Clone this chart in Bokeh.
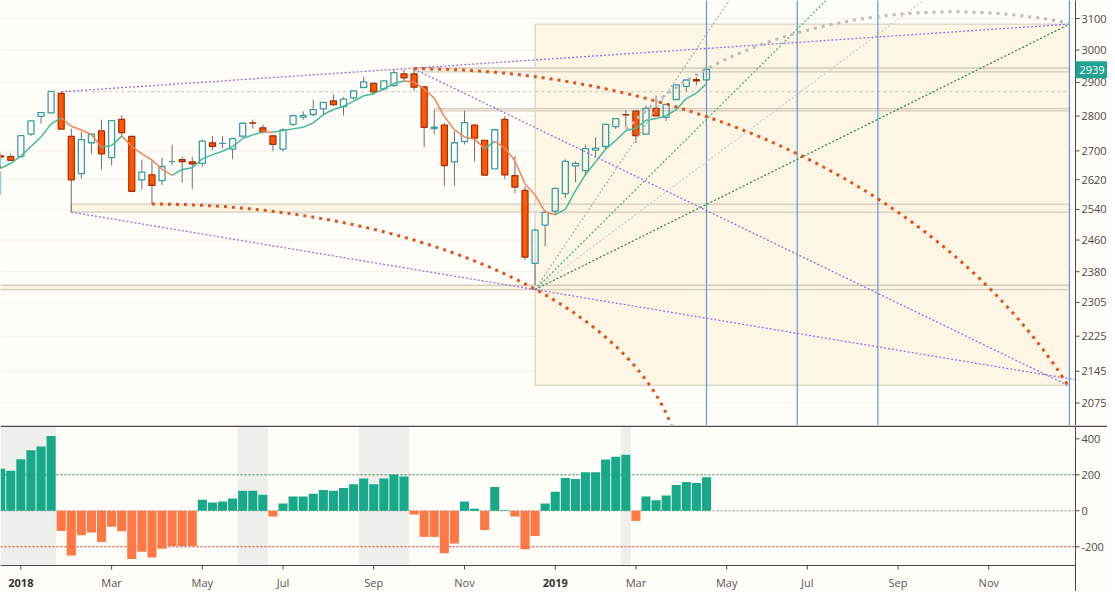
import numpy as np
from bokeh.plotting import figure
from bokeh.layouts import column
from bokeh.models import Range1d
from bokeh.core.properties import value
from bokeh.embed import file_html
from bokeh.resources import INLINE

# ---------------- data (weekly bars, week 0 = first week of 2018) ----------------
weeks = list(range(-6, 69))
opens = [2579.5, 2602.7, 2657.2, 2652.2, 2685.9, 2684.2,
         2683.7, 2747.7, 2799.0, 2809.2, 2867.2, 2741.1, 2636.8, 2723.0, 2757.4, 2681.1,
         2790.2, 2741.4, 2619.4, 2633.5, 2617.2, 2670.1, 2675.4, 2669.4, 2665.1, 2722.7,
         2721.0, 2705.1, 2741.7, 2780.2, 2765.8, 2742.9, 2705.0, 2775.6, 2796.9, 2804.6,
         2821.2, 2844.7, 2827.9, 2853.9, 2884.7, 2897.0, 2880.7, 2890.7, 2926.3, 2926.3,
         2886.4, 2763.8, 2773.9, 2669.3, 2726.4, 2773.9, 2730.1, 2650.0, 2790.5, 2630.9,
         2590.8, 2400.6, 2498.8, 2535.6, 2582.1, 2657.9, 2644.9, 2702.1, 2712.4, 2769.3,
         2804.4, 2814.4, 2747.6, 2822.6, 2796.0, 2848.6, 2888.3, 2908.4, 2908.0]
highs = [2604.2, 2657.7, 2665.2, 2679.6, 2695.0, 2692.1,
         2743.5, 2787.9, 2810.3, 2872.9, 2870.6, 2763.4, 2754.4, 2747.8, 2789.2, 2786.6,
         2801.9, 2741.4, 2674.8, 2672.1, 2680.3, 2717.5, 2683.6, 2682.9, 2732.9, 2742.1,
         2742.2, 2736.9, 2779.9, 2789.8, 2775.0, 2746.1, 2764.4, 2804.5, 2814.2, 2848.0,
         2841.4, 2863.4, 2855.6, 2876.2, 2916.5, 2900.2, 2906.3, 2940.9, 2939.1, 2939.9,
         2888.8, 2816.9, 2779.7, 2756.6, 2815.2, 2776.0, 2731.3, 2760.9, 2800.2, 2685.4,
         2601.1, 2488.8, 2538.1, 2597.8, 2675.5, 2670.7, 2718.1, 2739.0, 2775.7, 2794.2,
         2816.9, 2816.9, 2830.7, 2860.3, 2836.0, 2893.4, 2910.5, 2916.1, 2940.3]
lows = [2575.3, 2600.7, 2624.8, 2647.6, 2676.1, 2673.6,
        2682.4, 2742.4, 2778.4, 2808.1, 2760.0, 2532.7, 2622.5, 2692.0, 2647.5, 2659.3,
        2741.4, 2585.9, 2593.1, 2553.8, 2605.5, 2660.0, 2612.2, 2594.6, 2655.2, 2701.9,
        2707.4, 2676.8, 2737.8, 2763.9, 2749.2, 2698.7, 2699.0, 2770.6, 2789.2, 2799.2,
        2802.5, 2829.9, 2802.5, 2848.0, 2884.7, 2864.1, 2873.5, 2886.5, 2903.3, 2874.3,
        2710.5, 2746.6, 2603.5, 2603.5, 2717.9, 2670.8, 2631.1, 2650.0, 2621.5, 2583.2,
        2408.6, 2346.6, 2444.0, 2524.6, 2570.4, 2612.9, 2631.1, 2681.8, 2703.6, 2762.2,
        2767.7, 2722.3, 2746.0, 2800.7, 2785.0, 2848.6, 2873.3, 2891.9, 2898.2]
closes = [2602.4, 2642.2, 2651.5, 2675.8, 2683.3, 2673.6,
          2743.2, 2786.2, 2810.3, 2872.9, 2762.1, 2619.6, 2732.2, 2747.3, 2691.3, 2786.6,
          2752.0, 2588.3, 2640.9, 2604.5, 2656.3, 2670.1, 2669.9, 2663.4, 2727.7, 2713.0,
          2721.3, 2734.6, 2779.0, 2779.4, 2754.9, 2718.4, 2759.8, 2801.3, 2801.8, 2818.8,
          2840.4, 2833.3, 2850.1, 2874.7, 2901.5, 2871.7, 2905.0, 2929.7, 2914.0, 2885.6,
          2767.1, 2767.8, 2658.7, 2723.1, 2781.0, 2736.3, 2632.6, 2760.2, 2633.1, 2600.0,
          2416.6, 2485.7, 2531.9, 2596.3, 2670.7, 2664.8, 2706.5, 2707.9, 2775.6, 2792.7,
          2803.7, 2743.1, 2822.5, 2800.7, 2834.4, 2892.7, 2907.4, 2905.0, 2939.9]
last_price = 2939

hist_weeks = list(range(-2, 69))
hist_vals = [234, 223, 287, 336, 357, 416, -112, -248, -136, -120, -173, -88, -114,
             -268, -227, -259, -211, -196, -196, -196, 62, 46, 52, 68, 111, 111, 89,
             -32, 41, 79, 79, 95, 116, 111, 127, 148, 180, 148, 180, 202, 191, -21,
             -145, -145, -236, -182, 52, 12, -107, 132, 3, -32, -214, -140, 41, 106,
             182, 177, 214, 214, 285, 301, 312, -56, 79, 58, 85, 144, 160, 155, 187]
shade_weeks = [-2, -1, 0, 1, 2, 3, 22, 23, 24, 34, 35, 36, 37, 38, 60]

price_ticks = [2075, 2145, 2225, 2305, 2380, 2460, 2540, 2620, 2700, 2800, 2900, 3000, 3100]
osc_ticks = [400, 200, 0, -200]
osc_levels = [200, 0, -200]
month_weeks = [0, 9, 18, 26, 35, 44, 53, 61, 70, 78, 87, 96]
month_labels = ["2018", "Mar", "May", "Jul", "Sep", "Nov", "2019", "Mar", "May", "Jul", "Sep", "Nov"]

# ---------------- drawing anchors (week, price) ----------------
box_weeks = [51, 104]
box_prices = [2114, 3082]
fan_origin = [51, 2336]
fan_ratios = [3, 2, 1.5, 1]
fan_colors = ["#b4b4b4", "#3dbb7d", "#d2d2d2", "#2f8a55"]
time_lines = [68, 77, 85, 104]
band_starts = [39, 41, 5, -3]
band_lows = [2932, 2815, 2532.7, 2336]
band_highs = [2944, 2822, 2553.8, 2346.6]
dashed_start = [4, 2872]
trend_a = [[4, 2872], [104, 3082]]
trend_b = [[39, 2941], [104, 2112]]
trend_c = [[5, 2532.7], [51, 2336]]
arc_centers = [[13, 1917.7], [39, 1616], [92.5, 2443.7]]
arc_radii_w = [52.5, 72.55, 37.41]
arc_radii_ln = [0.2866, 0.599, 0.2449]
arc_spans = [[0.0, 1.45], [0.0, 1.111], [-1.05, 0.313]]
arc_colors = ["#e4501c", "#e4501c", "#bcbcbc"]

BG = "#fffef8"
AXC = "#4a4a4a"
FONT = "Open Sans"
W = 1107
X0 = -2.02          # left edge of the chart (week)
AX = 104.6          # position of the price axis line (week)
PXW = 1075 / (AX - X0)   # pixels per week
XF = X0 + W / PXW
xr = Range1d(X0, XF)

# ---------------- price panel ----------------
H1 = 425
Y_LO, Y_HI = 2027, 3159
p1 = figure(width=W, height=H1, x_range=xr, y_range=Range1d(Y_LO, Y_HI),
            y_axis_type="log", y_axis_location=None, x_axis_location=None,
            toolbar_location=None, output_backend="svg",
            min_border_left=0, min_border_right=0, min_border_top=0, min_border_bottom=0,
            background_fill_color=BG, border_fill_color=BG, outline_line_color=None)
p1.grid.grid_line_color = None
PX_LN = H1 / np.log(Y_HI / Y_LO)   # pixels per unit of ln(price)

# faint horizontal grid
p1.segment(x0=[X0] * len(price_ticks), y0=price_ticks, x1=[AX] * len(price_ticks), y1=price_ticks,
           line_color="#f3f1e8", line_width=1)

# box fill
p1.quad(left=[box_weeks[0]], right=[box_weeks[1]], bottom=[box_prices[0]], top=[box_prices[1]],
        fill_color="#fdf6e4", line_color="#cfc9bb", line_width=1)
# bands
for s, lo, hi in zip(band_starts, band_lows, band_highs):
    p1.quad(left=[s], right=[box_weeks[1]], bottom=[lo], top=[hi],
            fill_color="#fbf2de", fill_alpha=0.8, line_color="#d2cbbb", line_width=1.3)
p1.segment(x0=[dashed_start[0]], y0=[dashed_start[1]], x1=[box_weeks[1]], y1=[dashed_start[1]],
           line_color="#c8c2b8", line_width=1, line_dash="3 3")
# time lines
for w in time_lines:
    p1.segment(x0=[w], y0=[1900], x1=[w], y1=[3300], line_color="#5b9bd5", line_width=1.2)

# candles
w_arr = np.array(weeks, dtype=float)
o = np.array(opens); h = np.array(highs); l = np.array(lows); c = np.array(closes)
top = np.maximum(o, c); bot = np.minimum(o, c)
up = c >= o
p1.segment(x0=w_arr, y0=h, x1=w_arr, y1=top, line_color="#6f6f6f", line_width=1)
p1.segment(x0=w_arr, y0=bot, x1=w_arr, y1=l, line_color="#6f6f6f", line_width=1)
p1.vbar(x=w_arr[up], width=0.6, top=top[up], bottom=bot[up], fill_alpha=0,
        line_color="#3a9ea2", line_width=1.3)
p1.vbar(x=w_arr[~up], width=0.6, top=top[~up], bottom=bot[~up], fill_color="#ff5608",
        line_color="#a52b00", line_width=1.2)

# 5-week moving average, coloured by direction
ma = np.array([np.mean(c[i - 4:i + 1]) for i in range(4, len(c))])
ma_w = w_arr[4:]
seg_cols = ["#3fbb9b" if ma[i] >= ma[i - 1] else "#f3845a" for i in range(1, len(ma))]
p1.segment(x0=ma_w[:-1], y0=ma[:-1], x1=ma_w[1:], y1=ma[1:], line_color=seg_cols, line_width=1.5)

# fan lines
corner_ln = np.log(box_prices[1] / fan_origin[1]) / (box_weeks[1] - fan_origin[0])
for r, col in zip(fan_ratios, fan_colors):
    x_end = box_weeks[1]
    y_end = fan_origin[1] * np.exp(r * corner_ln * (x_end - fan_origin[0]))
    p1.line([fan_origin[0], x_end], [fan_origin[1], y_end], line_color=col,
            line_width=1.3, line_dash="2 2")

# purple trend lines
PURPLE = "#9a6fe0"
for (a, b) in [trend_a, trend_b]:
    p1.line([a[0], b[0]], [a[1], b[1]], line_color=PURPLE, line_width=1.3, line_dash="2 2")
slope_c = np.log(trend_c[1][1] / trend_c[0][1]) / (trend_c[1][0] - trend_c[0][0])
c_end_w = 104.5
c_end_p = trend_c[1][1] * np.exp(slope_c * (c_end_w - trend_c[1][0]))
p1.line([trend_c[0][0], trend_c[1][0], c_end_w], [trend_c[0][1], trend_c[1][1], c_end_p],
        line_color=PURPLE, line_width=1.3, line_dash="2 2")

# arcs
for cen, aw, bl, span, col in zip(arc_centers, arc_radii_w, arc_radii_ln, arc_spans, arc_colors):
    th = np.linspace(span[0], span[1], 300)
    xs = cen[0] + aw * np.sin(th)
    ys = cen[1] * np.exp(bl * np.cos(th))
    p1.line(xs, ys, line_color=col, line_width=3, line_dash="3 5")

# price axis (right)
p1.segment(x0=[AX], y0=[1900], x1=[AX], y1=[3300], line_color=AXC, line_width=1)
p1.segment(x0=[AX] * len(price_ticks), y0=price_ticks, x1=[AX + 4 / PXW] * len(price_ticks),
           y1=price_ticks, line_color=AXC, line_width=1)
p1.text(x=[AX] * len(price_ticks), y=price_ticks, text=[str(t) for t in price_ticks],
        x_offset=6, text_font=value(FONT), text_font_size="11px", text_color=AXC,
        text_baseline="middle", text_align="left")
# last price marker
dln = 8.5 / PX_LN
p1.quad(left=[AX], right=[XF], bottom=[last_price * np.exp(-dln)], top=[last_price * np.exp(dln)],
        fill_color="#22a394", line_color=None)
p1.text(x=[AX], y=[last_price], text=[str(last_price)], x_offset=4, text_font=value(FONT),
        text_font_size="11px", text_color="white", text_baseline="middle", text_align="left")

# ---------------- oscillator panel ----------------
H2 = 166
O_HI = 474
O_FRAME_LO = -304
UPX = (O_HI - O_FRAME_LO) / 140.0      # oscillator units per pixel
O_LO = O_HI - H2 * UPX
p2 = figure(width=W, height=H2, x_range=xr, y_range=Range1d(O_LO, O_HI),
            y_axis_location=None, x_axis_location=None, toolbar_location=None,
            output_backend="svg",
            min_border_left=0, min_border_right=0, min_border_top=0, min_border_bottom=0,
            background_fill_color=BG, border_fill_color=BG, outline_line_color=None)
p2.grid.grid_line_color = None
p2.vbar(x=shade_weeks, width=1.0, top=O_HI, bottom=O_FRAME_LO, fill_color="#efefeb", line_color=None)
for lv, col in zip(osc_levels, ["#1e7b45", "#8e8e8e", "#d0231c"]):
    p2.segment(x0=[X0], y0=[lv], x1=[AX], y1=[lv], line_color=col, line_width=1, line_dash="2 2")
hv = np.array(hist_vals, dtype=float)
hw = np.array(hist_weeks, dtype=float)
p2.vbar(x=hw[hv >= 0], width=0.9, top=hv[hv >= 0], bottom=0, fill_color="#17a98a", line_color=None)
p2.vbar(x=hw[hv < 0], width=0.9, top=0, bottom=hv[hv < 0], fill_color="#ff7846", line_color=None)
# separator between panels and axes
p2.segment(x0=[X0], y0=[O_HI - 0.8 * UPX], x1=[XF], y1=[O_HI - 0.8 * UPX], line_color=AXC, line_width=1.5)
p2.segment(x0=[X0], y0=[O_FRAME_LO], x1=[AX], y1=[O_FRAME_LO], line_color=AXC, line_width=1)
p2.segment(x0=[AX], y0=[O_LO], x1=[AX], y1=[O_HI], line_color=AXC, line_width=1)
p2.segment(x0=[AX] * len(osc_ticks), y0=osc_ticks, x1=[AX + 4 / PXW] * len(osc_ticks), y1=osc_ticks,
           line_color=AXC, line_width=1)
p2.text(x=[AX] * len(osc_ticks), y=osc_ticks, text=[str(t) for t in osc_ticks], x_offset=6,
        text_font=value(FONT), text_font_size="11px", text_color=AXC,
        text_baseline="middle", text_align="left")
# time axis
p2.segment(x0=month_weeks, y0=[O_FRAME_LO] * len(month_weeks), x1=month_weeks,
           y1=[O_FRAME_LO - 4 * UPX] * len(month_weeks), line_color=AXC, line_width=1)
lab_y = O_FRAME_LO - 17 * UPX
yr_idx = [i for i, t in enumerate(month_labels) if t.isdigit()]
mo_idx = [i for i, t in enumerate(month_labels) if not t.isdigit()]
p2.text(x=[month_weeks[i] for i in mo_idx], y=[lab_y] * len(mo_idx), text=[month_labels[i] for i in mo_idx],
        text_font=value(FONT), text_font_size="11px", text_color="#555555",
        text_baseline="middle", text_align="center")
p2.text(x=[month_weeks[i] for i in yr_idx], y=[lab_y] * len(yr_idx), text=[month_labels[i] for i in yr_idx],
        text_font=value(FONT), text_font_size="11px", text_font_style="bold", text_color="#333333",
        text_baseline="middle", text_align="center")

layout = column(p1, p2, spacing=0)
open("out.html", "w").write(file_html(layout, INLINE))
